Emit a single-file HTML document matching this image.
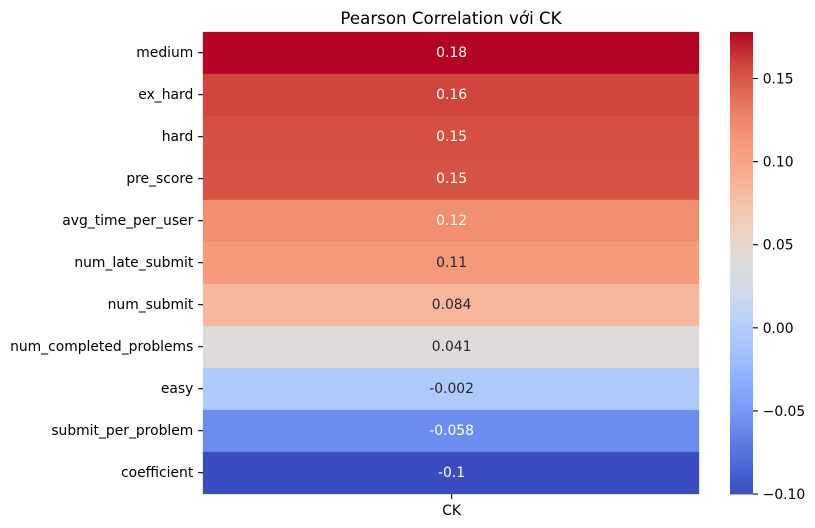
<!DOCTYPE html>
<html lang="vi">
<head>
<meta charset="utf-8">
<title>Pearson Correlation với CK</title>
<style>
html,body{margin:0;padding:0;background:#fff;width:815px;height:528px;overflow:hidden}
svg{display:block}
text{font-family:"DejaVu Sans",sans-serif;font-size:13.89px;fill:#000}
</style>
</head>
<body>
<svg id="chart" xmlns="http://www.w3.org/2000/svg" width="815" height="528" viewBox="0 0 815 528"></svg>
<script>
const categories = ["medium","ex_hard","hard","pre_score","avg_time_per_user","num_late_submit","num_submit","num_completed_problems","easy","submit_per_problem","coefficient"];
const seriesName = "CK";
const values = [0.178,0.159,0.154,0.152,0.119,0.11,0.084,0.041,-0.002,-0.058,-0.1];
const colorbarTicks = [-0.10,-0.05,0.00,0.05,0.10,0.15];
const titleText = "Pearson Correlation với CK";

const NS = "http://www.w3.org/2000/svg";
const svg = document.getElementById("chart");
const plot = {left:203, right:699, top:32, bottom:494};
const bar = {left:730, right:753, top:32, bottom:494};
const vmin = Math.min(...values);
const vmax = Math.max(...values);

const cmapStops = [
  [0,59,76,192],[0.0625,74,104,217],[0.125,98,130,234],[0.1875,123,156,249],[0.25,141,176,254],
  [0.3125,163,194,254],[0.375,184,208,249],[0.4375,208,218,233],[0.5,221,220,220],
  [0.5625,236,211,197],[0.625,245,196,172],[0.6875,247,174,145],[0.75,246,156,125],
  [0.8125,239,134,106],[0.875,224,100,79],[0.93,208,71,61],[1,180,4,38]
];
function cmap(t){
  t = Math.max(0, Math.min(1, t));
  let i = 0;
  while (i < cmapStops.length - 2 && t > cmapStops[i+1][0]) i++;
  const a = cmapStops[i], b = cmapStops[i+1], f = (t - a[0]) / (b[0] - a[0]);
  return [1,2,3].map(k => Math.round(a[k] + (b[k] - a[k]) * f));
}
function rgb(c){ return "rgb(" + c.join(",") + ")"; }
function norm(v){ return (v - vmin) / (vmax - vmin); }
function luminance(c){
  const l = c.map(x => { const s = x / 255; return s <= 0.03928 ? s / 12.92 : Math.pow((s + 0.055) / 1.055, 2.4); });
  return 0.2126 * l[0] + 0.7152 * l[1] + 0.0722 * l[2];
}
function fmtG2(v){ return String(Number(v.toPrecision(2))); }
function fmtTick(v){ return (v < 0 ? "\u2212" : "") + Math.abs(v).toFixed(2); }
function rowY(i){ return plot.top + (plot.bottom - plot.top) * i / categories.length; }
function barY(v){ return bar.bottom - (bar.bottom - bar.top) * norm(v); }
function make(tag, attrs, text){
  const el = document.createElementNS(NS, tag);
  for (const k in attrs) el.setAttribute(k, attrs[k]);
  if (text !== undefined) el.textContent = text;
  svg.appendChild(el);
  return el;
}

const bg = make("rect", {x:0, y:0, width:815, height:528, fill:"#fff"});



const title = make("text", {x:(plot.left + plot.right) / 2, y:24, "text-anchor":"middle", style:"font-size:16.67px"}, titleText);



const xc = 451.6;

categories.forEach((name, i) => {
  const y0 = rowY(i), y1 = rowY(i + 1), yc = (y0 + y1) / 2;
  const c = cmap(norm(values[i]));

  const cell = make("rect", {x:plot.left, y:y0, width:plot.right - plot.left, height:y1 - y0, fill:rgb(c), stroke:rgb(c), "stroke-width":0.3});
  
  

  const note = make("text", {x:xc, y:yc + 4, "text-anchor":"middle"}, fmtG2(values[i]));
  note.style.fill = luminance(c) < 0.408 ? "#fff" : "#262626";
  
  

  const tick = make("line", {x1:plot.left - 4.9, x2:plot.left, y1:yc - 0.3, y2:yc - 0.3, stroke:"#000", "stroke-width":1.1});
  
  

  const label = make("text", {x:plot.left - 9.7, y:yc + 4, "text-anchor":"end"}, name);
  
  
});

const xTick = make("line", {x1:xc, x2:xc, y1:plot.bottom, y2:plot.bottom + 4.9, stroke:"#000", "stroke-width":1.1});


const xLabel = make("text", {x:xc, y:515, "text-anchor":"middle"}, seriesName);



const steps = 231;
for (let s = 0; s < steps; s++) {
  const h = (bar.bottom - bar.top) / steps;
  const seg = make("rect", {x:bar.left, y:bar.bottom - (s + 1) * h, width:bar.right - bar.left, height:h + 0.4, fill:rgb(cmap((s + 0.5) / steps))});
  
  
}

colorbarTicks.forEach(v => {
  const y = barY(v);
  const t = make("line", {x1:bar.right, x2:bar.right + 4.9, y1:y, y2:y, stroke:"#000", "stroke-width":1.1});
  
  
  const l = make("text", {x:bar.right + 9.7, y:y + 5}, fmtTick(v));
  
  
});
</script>
</body>
</html>
